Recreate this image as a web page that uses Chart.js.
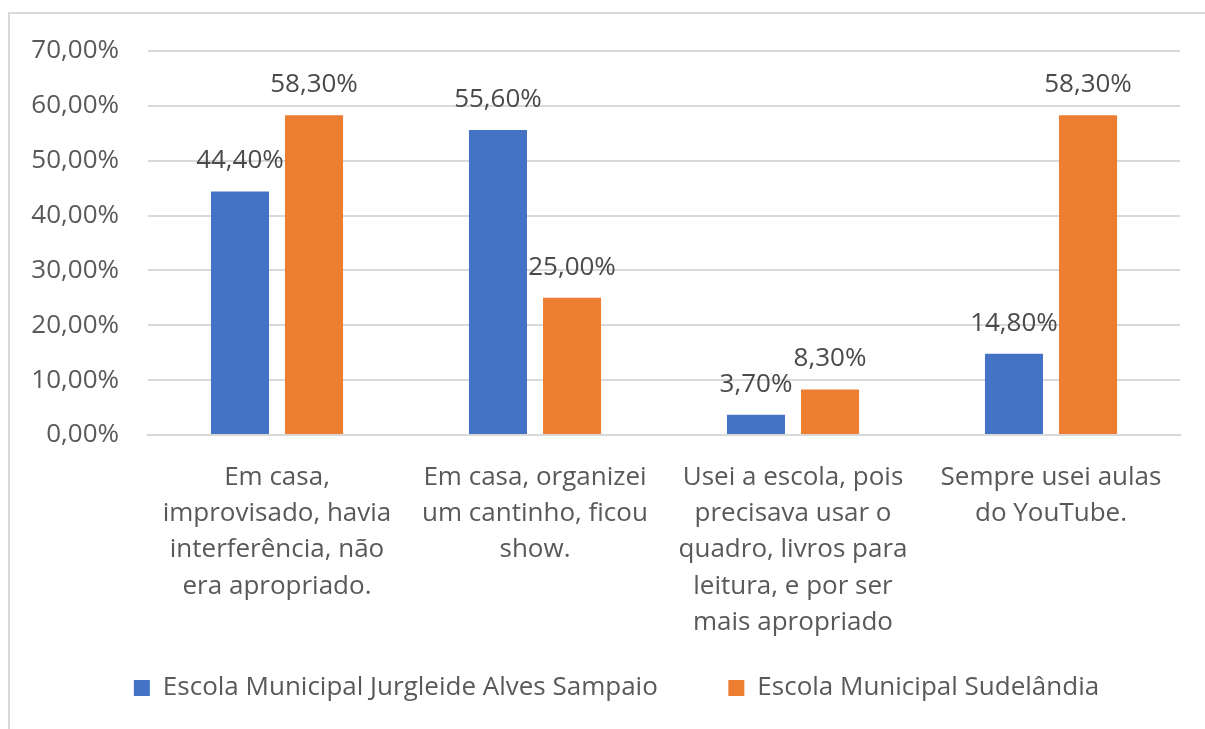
<!DOCTYPE html>
<html>
<head>
<meta charset="utf-8">
<script src="https://cdn.jsdelivr.net/npm/chart.js@4"></script>
<style>
  html, body { margin: 0; padding: 0; background: #fff; }
  #wrap { position: relative; width: 1205px; height: 729px; }
  #frame { position: absolute; left: 8px; top: 12px; right: -5px; bottom: -5px;
           border-top: 2px solid #d9d9d9; border-left: 2px solid #d9d9d9; pointer-events: none; }
  canvas { position: absolute; left: 0; top: 0; }
</style>
</head>
<body>
<div id="wrap">
  <canvas id="chart" width="1205" height="729"></canvas>
  <div id="frame"></div>
</div>
<script>
const categories = [
  ['Em casa,', 'improvisado, havia', 'interferência, não', 'era apropriado.'],
  ['Em casa, organizei', 'um cantinho, ficou', 'show.'],
  ['Usei a escola, pois', 'precisava usar o', 'quadro, livros para', 'leitura, e por ser', 'mais apropriado'],
  ['Sempre usei aulas', 'do YouTube.']
];
const jurgleide = [44.4, 55.6, 3.7, 14.8];
const sudelandia = [58.3, 25.0, 8.3, 58.3];
const yTicks = [0, 10, 20, 30, 40, 50, 60, 70];

const FONT = "'Open Sans', 'Noto Sans', sans-serif";
const TXT = '#595959';

function pct(v) {
  return v.toFixed(2).replace('.', ',') + '%';
}

// value labels above each bar
const valueLabels = {
  id: 'valueLabels',
  afterDatasetsDraw(chart) {
    const ctx = chart.ctx;
    ctx.save();
    ctx.font = '26px ' + FONT;
    ctx.fillStyle = '#4a4a4a';
    ctx.textAlign = 'center';
    ctx.textBaseline = 'alphabetic';
    chart.data.datasets.forEach((ds, i) => {
      chart.getDatasetMeta(i).data.forEach((bar, j) => {
        ctx.fillText(pct(ds.data[j]), bar.x, bar.y - 23);
      });
    });
    ctx.restore();
  }
};

// wider gap between the two legend entries
const legendGap = ['      ', ''];

new Chart(document.getElementById('chart'), {
  type: 'bar',
  data: {
    labels: categories,
    datasets: [
      {
        label: 'Escola Municipal Jurgleide Alves Sampaio',
        data: jurgleide,
        backgroundColor: '#4472C4',
        barPercentage: 0.784,
        categoryPercentage: 0.574
      },
      {
        label: 'Escola Municipal Sudelândia',
        data: sudelandia,
        backgroundColor: '#ED7D31',
        barPercentage: 0.784,
        categoryPercentage: 0.574
      }
    ]
  },
  options: {
    responsive: false,
    animation: false,
    layout: { padding: { top: 51, right: 2, bottom: 18, left: 30 } },
    plugins: {
      legend: {
        position: 'bottom',
        labels: {
          boxWidth: 16,
          boxHeight: 16,
          padding: 30,
          color: TXT,
          font: { family: FONT, size: 26 },
          generateLabels(chart) {
            return Chart.defaults.plugins.legend.labels.generateLabels(chart).map((item, i) => {
              item.text = item.text + legendGap[i];
              return item;
            });
          }
        }
      },
      tooltip: { enabled: false }
    },
    scales: {
      x: {
        grid: { display: false, drawTicks: false },
        border: { color: '#d9d9d9', width: 2 },
        ticks: {
          color: TXT,
          padding: 24,
          autoSkip: false,
          maxRotation: 0,
          font: { family: FONT, size: 26, lineHeight: 1.4 }
        },
        afterFit(scale) { scale.height = 210; }
      },
      y: {
        min: 0,
        max: 70,
        afterBuildTicks(scale) { scale.ticks = yTicks.map(v => ({ value: v })); },
        grid: { color: '#d9d9d9', lineWidth: 2, drawTicks: false },
        border: { display: false },
        ticks: {
          color: TXT,
          padding: 29,
          font: { family: FONT, size: 26 },
          callback: v => pct(v)
        },
        afterFit(scale) { scale.width = 118; }
      },
      // empty right margin so the plot ends where the original does
      yRight: {
        position: 'right',
        grid: { display: false, drawTicks: false },
        border: { display: false },
        ticks: { display: false },
        afterFit(scale) { scale.width = 23; }
      }
    }
  },
  plugins: [valueLabels]
});
</script>
</body>
</html>
